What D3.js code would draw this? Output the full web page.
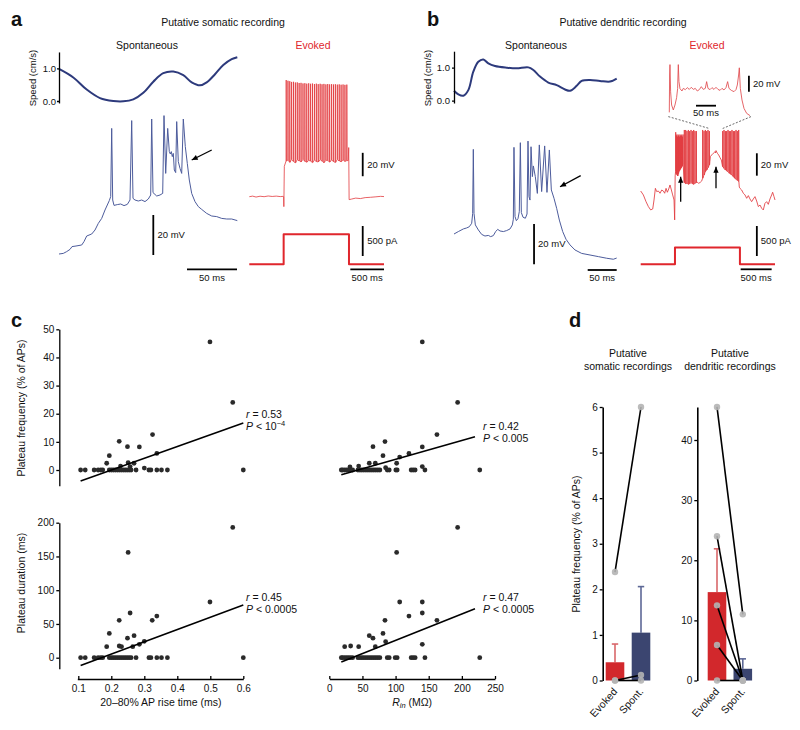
<!DOCTYPE html>
<html><head><meta charset="utf-8">
<script src="https://cdn.jsdelivr.net/npm/d3@7"></script>
<style>
body{margin:0;background:#fff}
svg{display:block;background:#fff}
text{font-family:'Liberation Sans',Arial,Helvetica,sans-serif;fill:#111}
</style></head>
<body><svg id="fig" width="800" height="730"></svg>
<script>
// ---------------- DATA ----------------
// Panel a: speed (cm/s) vs time (ms), spontaneous Vm (mV, relative) vs time (ms)
const aSpeed = [[0,0.98],[14.3,0.72],[27.7,0.35],[41,0.09],[54.3,0.0],[64.3,-0.01],[74.3,0.05],[84.3,0.25],[94.3,0.59],[104.3,0.85],[114.3,0.9],[124.3,0.79],[132.7,0.57],[141,0.48],[147.7,0.57],[156,0.82],[164.3,1.1],[172.7,1.28],[178.3,1.34]];
const aSpont = [[0,0],[4.3,0.3],[7.7,1.2],[11,2.3],[13,3.7],[17,4],[22.7,4.5],[25,6.2],[27.7,9],[32.7,10],[36,12],[39.3,15.3],[42.7,17.8],[46,22],[50.3,26.7],[51.7,28.7],[52.7,62.8],[53.7,27],[55,24.3],[58.3,24.7],[61.7,25],[65,24.2],[68.3,24.8],[71,27],[72.7,66.7],[74,27.8],[76,27],[79.3,26.5],[82.7,27],[86,26.2],[89.3,27.5],[91.7,29.5],[92.7,67.5],[94,30.7],[97.7,29],[101,29.5],[103.7,30.3],[105,69.2],[106.7,40.3],[108.7,62.8],[110.3,51.2],[111.3,50],[112.3,51.2],[113.3,48.7],[114.3,50.3],[115.3,42],[116.7,40.7],[117.7,66.2],[119.3,46.2],[121,42.8],[122.7,40.3],[124.3,67.5],[126.3,53.7],[128.3,45.3],[130.3,37],[132.7,30.3],[136,26.2],[139.3,23.7],[142.7,22.3],[147.7,20.3],[152.7,19],[157.7,18.7],[162.7,17.8],[167.7,17.5],[172.7,17.5],[178.3,16.7]];
// Panel a evoked: baseline/non-spike parts, spike times, peaks, troughs (mV); current step (pA)
const aEvBase = [[0,0],[50,0.5],[100,-0.3],[160,0.4],[220,0],[280,0.6],[340,0.2],[400,0.5],[460,0.1],[505,0.3],[510,0],[513,-8.5],[520,26],[1470,31],[1476,42],[1482,-2.5],[1520,-2],[1580,-1.2],[1650,-1.6],[1720,-0.8],[1800,-0.5],[1880,-0.1],[1950,0.3],[2000,0.1]];
const aEvSpikeT = [548,574,601,628,656,684,712,740,768,797,825,853,882,910,938,967,995,1023,1052,1080,1108,1137,1165,1193,1222,1250,1278,1307,1335,1363,1392,1420,1448];
const aEvPeak = [99.7,99.1,98.7,98.1,98.2,97.6,97.7,97.2,97.3,96.8,97.0,96.6,96.9,96.5,96.7,96.3,96.6,96.2,96.5,96.1,96.4,96.0,96.3,96.0,96.2,95.9,96.1,95.8,96.0,95.7,95.9,95.6,95.8];
const aEvTrough = [30.5,31.2,29.4,31.8,30.1,29.0,31.5,30.6,29.8,31.9,30.2,29.5,31.0,30.4,29.2,31.3,30.0,29.7,31.6,30.3,29.1,31.1,30.8,29.6,31.4,30.0,29.3,31.7,30.5,29.9,31.2,30.2,30.8];
const aCurT = [0,510,1480,2000];
const aCurI = [0,500,0,0];

// Panel b
const bSpeed = [[0,0.3],[7.5,0.19],[16.1,0.15],[24.7,0.32],[33.3,0.88],[41.9,1.18],[50.6,1.25],[59.2,1.13],[70.7,1.05],[90.8,1.0],[108,0.98],[128.2,1.01],[136.8,0.93],[148.3,0.73],[162.6,0.55],[177,0.47],[191.4,0.34],[200,0.3],[211.5,0.45],[220.1,0.6],[234.5,0.63],[251.7,0.6],[269,0.58],[280.5,0.67]];
const bSpont = [[0,0],[7.5,1.2],[16.1,2.5],[21.8,3],[26.4,3.6],[30.5,5.3],[32.2,10.2],[33.3,41.9],[34.5,10.2],[36.8,4.5],[42,2],[47.7,-0.2],[53.4,-1],[59.2,-0.7],[63.2,-1.3],[67.8,-0.8],[71.8,1.2],[75.3,2.3],[79.3,1.5],[85.1,1.2],[90.8,1.7],[96.6,2.5],[100.6,4.5],[102.3,7.3],[103.4,42.9],[105.2,8.6],[107.5,6.6],[110.3,7.6],[112.6,11.1],[114.4,45.2],[116.1,10.6],[119,8.3],[123,7.8],[125.9,9.9],[127.6,46],[129.3,18.5],[131,16.8],[132.8,43.2],[135.1,28.4],[136.8,33.7],[140.2,28.4],[143.7,20.1],[147.1,44.1],[151.1,21],[156.3,43.6],[160.3,20.6],[164.4,41.6],[167.8,21.8],[172.4,17.7],[177,12.7],[181.6,6.9],[187.4,1.2],[193.1,-2.6],[200,-5.4],[208.6,-7.9],[220.1,-9.6],[234.5,-10.4],[248.9,-11.2],[263.2,-12],[274.7,-12.5],[280.5,-11.9]];
const bEvBase = [[0,6.5],[43,3],[86,-3],[124,-7.4],[161,-10.4],[194,-9.5],[215,-1.5],[237,8.9],[258,6],[285,6.5],[312,4.5],[339,7.4],[366,6.5],[387,4.5],[409,8.9],[430,5.4],[452,8.3],[473,11.9],[495,7.4],[516,3],[538,-1.5],[548,-19.3],[556,20],
  [910,14.5],[935,13.4],[960,14.2],[985,15.5],
  [1116,33],[1124,37.2],[1145,38.7],[1172,40.2],[1190,41],[1199,41.7],[1208,40.5],[1215,42.6],[1237,40.2],[1258,38.7],[1280,36.3],[1301,34.2],[1315,30],
  [1591,10],[1602,8.9],[1629,7.4],[1656,4.5],[1683,3],[1710,0],[1737,2.4],[1763,-0.6],[1790,-3],[1817,-0.6],[1844,1.5],[1871,-2.4],[1898,-7.4],[1925,-6],[1952,-8.9],[1978,-10.4],[2005,-4.5],[2032,-3],[2059,-5.4],[2086,-0.6],[2113,3],[2129,5.4],[2151,1.5],[2167,-1.5]];
const bEvSpikeT = [565,575,586,597,608,618,629,640,651,661,672,683,704,726,747,769,790,812,833,855,876,898,1000,1022,1043,1065,1086,1108,1323,1344,1366,1387,1409,1430,1452,1473,1495,1516,1538,1559,1581];
const bEvPeak = [59,56,57,55,56,57,55,56,57,56,55,57,61,61,60,61,60,61,60,61,60,60,61,60,61,60,61,60,60,61,60,60,61,60,60,61,60,60,61,60,61];
const bEvTrough = [24,22,21,20,22,24,25,26,27,28,29,30,14,13,13.5,12.5,13,14,13,12.5,13.5,14,17.9,20.8,23.8,25.3,27.4,29.8,28.3,26.8,25.3,24.5,23.8,22.3,21.5,20.8,19.3,18,17,16,15];
const bInset = [[0,3.3],[0.8,50],[1.7,63],[3.3,29],[5.8,12.5],[10,6.3],[14.2,12.5],[18.3,21.7],[20.8,33],[22.5,63],[24.2,41.7],[26.7,33],[31.7,30],[35,33.3],[40,31.7],[45,34.2],[50,32],[55,34.6],[60,32],[65,33.3],[70,30],[75,31.7],[80,35.4],[85,32],[90,33.3],[93.3,41.7],[96.7,33.3],[101.7,31.7],[106.7,34.2],[111.7,32],[116.7,34.6],[121.7,32],[126.7,30.8],[131.7,33.3],[136.7,31.3],[141.7,34.2],[145.8,41.7],[149.2,33.3],[155,30.8],[161.7,29.2],[166.7,31.7],[170,37.5],[173.3,50],[175,59],[177.5,33.3],[181.7,18.8],[186.7,8.3],[193.3,2.1],[201.7,-0.8]];
const bInsetWindow = [1106,1323];
const bCurT = [0,553,1601,2167];
const bCurI = [0,280,0,0];

// Panel c scatter: [x, y]
const cRiseFreq = [[0.499,45.5],[0.568,24.0],[0.325,12.6],[0.224,10.2],[0.249,8.3],[0.285,8.2],[0.194,5.1],[0.338,5.9],[0.186,2.4],[0.251,2.6],[0.269,2.4],[0.228,1.4],[0.257,1.2],[0.300,0.7],
 [0.107,0],[0.121,0],[0.148,0],[0.16,0],[0.168,0],[0.174,0],[0.194,0],[0.2,0],[0.206,0],[0.212,0],[0.218,0],[0.224,0],[0.23,0],[0.236,0],[0.242,0],[0.248,0],[0.254,0],[0.26,0],[0.275,0],[0.314,0],[0.32,0],[0.338,0],[0.352,0],[0.37,0],[0.6,0]];
const cRinFreq = [[140.3,45.5],[193.6,24],[162.4,12.6],[84,10.1],[65.9,8.3],[140.3,8.2],[81,5.1],[106.2,4.6],[120.2,5.9],[60.3,2.4],[69.4,2.4],[101.6,2.4],[44.3,1.4],[31.2,1.1],[140.3,1.2],[85,0.8],
 [18.1,0],[20.2,0],[23.2,0],[26.2,0],[29.2,0],[32.2,0],[35.2,0],[43.2,0],[46.2,0],[49.2,0],[52.2,0],[55.3,0],[58.3,0],[61.3,0],[64.3,0],[67.3,0],[70.3,0],[73.3,0],[76.3,0],[87.4,0],[90.4,0],[100.4,0],[102.4,0],[123.5,0],[126.5,0],[129.5,0],[144.3,0],[227,0]];
const cRiseDur = [[0.568,193],[0.251,156],[0.499,82.5],[0.257,66.2],[0.224,55.3],[0.324,55.3],[0.338,61.7],[0.194,36],[0.249,29],[0.269,32.6],[0.186,16.3],[0.224,17.3],[0.231,16.3],[0.265,16.3],[0.285,19.8],[0.3,24.2],
 [0.107,0],[0.121,0],[0.148,0],[0.16,0],[0.168,0],[0.174,0],[0.194,0],[0.2,0],[0.206,0],[0.212,0],[0.218,0],[0.224,0],[0.23,0],[0.236,0],[0.242,0],[0.248,0],[0.254,0],[0.26,0],[0.275,0],[0.314,0],[0.32,0],[0.338,0],[0.352,0],[0.37,0],[0.6,0]];
const cRinDur = [[193.6,193],[101.6,156],[106.2,82.5],[140.3,82.5],[140.3,66.2],[120.2,61.7],[162.4,55.3],[84,55.3],[81,36],[60.3,32.6],[65.9,29],[85,23.7],[140.3,19.8],[23.2,16.3],[32.2,17.3],[44.3,16.3],[69.4,16.3],
 [18.1,0],[20.2,0],[23.2,0],[26.2,0],[29.2,0],[32.2,0],[35.2,0],[43.2,0],[46.2,0],[49.2,0],[52.2,0],[55.3,0],[58.3,0],[61.3,0],[64.3,0],[67.3,0],[70.3,0],[73.3,0],[76.3,0],[87.4,0],[90.4,0],[99.4,0],[102.4,0],[123.5,0],[126.5,0],[129.5,0],[144.3,0],[227,0]];
const cFitRiseFreq = [[0.107,-3.9],[0.6,16.7]];
const cFitRinFreq = [[18.1,-1.7],[219.8,11.8]];
const cFitRiseDur = [[0.107,-11.4],[0.6,78]];
const cFitRinDur = [[18.1,-6.4],[219.8,72.6]];
const cStats = [["0.53","10","−4"],["0.42","0.005",""],["0.45","0.0005",""],["0.47","0.0005",""]];
const cRiseTicks = [0.1,0.2,0.3,0.4,0.5,0.6];
const cRinTicks = [0,50,100,150,200,250];
const cFreqTicks = [0,10,20,30,40,50];
const cDurTicks = [0,50,100,150,200];

// Panel d
const dCats = ["Evoked","Spont."];
const dSomMean = [0.4,1.05];
const dSomErr = [0.8,2.06];
const dSomPairs = [[2.38,6.0],[0,0.12],[0,0]];
const dDenMean = [14.7,1.95];
const dDenErr = [21.9,3.6];
const dDenPairs = [[45.5,11.0],[24.0,0],[12.5,0],[5.9,0],[0,0]];
const dSomTicks = [0,1,2,3,4,5,6];
const dDenTicks = [0,10,20,30,40];

// ---------------- DRAW ----------------
const svg = d3.select("#fig");
const NAVY = "#2d3a7c", NAVYT = "#4d5c9c", RED = "#e0262c", REDT = "#e23a3e";
const FONT = "'Liberation Sans',Arial,Helvetica,sans-serif";

function txt(x, y, s, o = {}) {
  const t = svg.append("text").attr("x", x).attr("y", y).text(s)
    .attr("font-size", o.size || 10).attr("text-anchor", o.anchor || "start");
  if (o.weight) t.attr("font-weight", o.weight);
  if (o.fill) t.style("fill", o.fill);
  if (o.rotate !== undefined) t.attr("transform", `rotate(${o.rotate},${x},${y})`);
  if (o.dy) t.attr("dy", o.dy);
  return t;
}
function path(data, xs, ys, color, w, curve) {
  return svg.append("path").datum(data).attr("fill", "none").attr("stroke", color)
    .attr("stroke-width", w).attr("stroke-linejoin", "round")
    .attr("d", d3.line().x(d => xs(d[0])).y(d => ys(d[1])).curve(curve || d3.curveLinear));
}
function seg(x1, y1, x2, y2, color, w, dash) {
  const l = svg.append("line").attr("x1", x1).attr("y1", y1).attr("x2", x2).attr("y2", y2)
    .attr("stroke", color || "#000").attr("stroke-width", w || 1.8);
  if (dash) l.attr("stroke-dasharray", dash);
  return l;
}
function arrow(x1, y1, x2, y2) {
  seg(x1, y1, x2, y2, "#000", 1.3);
  const a = Math.atan2(y2 - y1, x2 - x1), L = 6, W = 2.6;
  const bx = x2 - L * Math.cos(a), by = y2 - L * Math.sin(a);
  svg.append("path").attr("fill", "#000")
    .attr("d", `M${x2},${y2}L${bx + W * Math.sin(a)},${by - W * Math.cos(a)}L${bx - W * Math.sin(a)},${by + W * Math.cos(a)}Z`);
}
function spikeTrain(base, times, peaks, troughs, rise, fall) {
  const pts = base.map(d => d.slice());
  times.forEach((t, i) => { pts.push([t - rise, troughs[i]], [t, peaks[i]], [t + fall, troughs[i]]); });
  return pts.sort((a, b) => a[0] - b[0]);
}
function styleAxis(g, fs) {
  g.selectAll("path,line").attr("stroke", "#000").attr("stroke-width", 1.3);
  g.selectAll("text").attr("font-size", fs || 10).style("font-family", FONT).style("fill", "#111");
}

// ---- panel labels & titles
txt(11, 26, "a", {size: 20, weight: "bold"});
txt(427, 26, "b", {size: 20, weight: "bold"});
txt(11, 327, "c", {size: 20, weight: "bold"});
txt(569, 327, "d", {size: 20, weight: "bold"});
txt(223, 26, "Putative somatic recording", {size: 10.5, anchor: "middle"});
txt(623, 26, "Putative dendritic recording", {size: 10.5, anchor: "middle"});
txt(147, 49, "Spontaneous", {size: 10.5, anchor: "middle"});
txt(313, 49, "Evoked", {size: 10.5, anchor: "middle", fill: RED});
txt(536, 49, "Spontaneous", {size: 10.5, anchor: "middle"});
txt(707, 49, "Evoked", {size: 10.5, anchor: "middle", fill: RED});

// ---- Panel a: speed
const aTX = d3.scaleLinear().domain([0, 178]).range([59, 237]);
const aSpY = d3.scaleLinear().domain([0, 1]).range([101, 68.3]);
path(aSpeed, aTX, aSpY, NAVY, 2, d3.curveCatmullRom);
{
  const g = svg.append("g").attr("transform", "translate(59,0)")
    .call(d3.axisLeft(d3.scaleLinear().domain([-0.06, 1.5]).range([aSpY(-0.06), aSpY(1.5)])).tickValues([0, 1]).tickFormat(d3.format(".1f")).tickSize(2).tickSizeOuter(0).tickPadding(1));
  styleAxis(g, 9.5);
  txt(36, 78, "Speed (cm/s)", {size: 9.5, anchor: "middle", rotate: -90});
}
// spontaneous Vm
const aVY = d3.scaleLinear().domain([0, 20]).range([254, 214]);
path(aSpont, aTX, aVY, NAVYT, 1);
arrow(aTX(152.7), aVY(52), aTX(132.7), aVY(47));
seg(aTX(94.3), aVY(-0.5), aTX(94.3), aVY(19.5));
txt(aTX(98.5), aVY(9.5), "20 mV", {size: 9.5, dy: "0.35em"});
seg(aTX(128), 269.3, aTX(178), 269.3);
txt(aTX(153), 281, "50 ms", {size: 9.5, anchor: "middle"});

// evoked
const aEX = d3.scaleLinear().domain([0, 2000]).range([249.3, 384]);
const aEY = d3.scaleLinear().domain([0, 20]).range([196.7, 173.3]);
path(spikeTrain(aEvBase, aEvSpikeT, aEvPeak, aEvTrough, 2, 4), aEX, aEY, REDT, 0.8);
const aCY = d3.scaleLinear().domain([0, 500]).range([264.3, 234.3]);
path(aCurT.map((t, i) => [t, aCurI[i]]), aEX, aCY, RED, 2, d3.curveStepAfter);
seg(aEX(1684), aEY(17.5), aEX(1684), aEY(37.5));
txt(aEX(1684) + 4.5, aEY(27.5), "20 mV", {size: 9.5, dy: "0.35em"});
seg(aEX(1684), aCY(138), aEX(1684), aCY(638));
txt(aEX(1684) + 4.5, aCY(388), "500 pA", {size: 9.5, dy: "0.35em"});
seg(aEX(1500), 269.3, aEX(2000), 269.3);
txt(aEX(1750), 281, "500 ms", {size: 9.5, anchor: "middle"});

// ---- Panel b: speed
const bTX = d3.scaleLinear().domain([0, 280.5]).range([454, 616.7]);
const bSpY = d3.scaleLinear().domain([0, 1]).range([100.7, 67.7]);
path(bSpeed, bTX, bSpY, NAVY, 2, d3.curveCatmullRom);
{
  const g = svg.append("g").attr("transform", "translate(454,0)")
    .call(d3.axisLeft(d3.scaleLinear().domain([-0.07, 1.5]).range([bSpY(-0.07), bSpY(1.5)])).tickValues([0, 1]).tickFormat(d3.format(".1f")).tickSize(2).tickSizeOuter(0).tickPadding(2));
  styleAxis(g, 9.5);
  txt(431, 78, "Speed (cm/s)", {size: 9.5, anchor: "middle", rotate: -90});
}
const bVY = d3.scaleLinear().domain([0, 20]).range([234, 193.6]);
path(bSpont, bTX, bVY, NAVYT, 1);
arrow(bTX(218.4), bVY(28.9), bTX(182.8), bVY(23.4));
seg(bTX(138), bVY(4.95), bTX(138), bVY(-15));
txt(bTX(138) + 4, bVY(-5), "20 mV", {size: 9.5, dy: "0.35em"});
seg(bTX(230.5), 270, bTX(280.5), 270);
txt(bTX(255.5), 281, "50 ms", {size: 9.5, anchor: "middle"});

// evoked main
const bEX = d3.scaleLinear().domain([0, 2167]).range([640.7, 775]);
const bEY = d3.scaleLinear().domain([0, 20]).range([198.3, 175.9]);
path(spikeTrain(bEvBase, bEvSpikeT, bEvPeak, bEvTrough, 2, 3), bEX, bEY, REDT, 0.85);
arrow(bEX(645), bEY(-3), bEX(645), bEY(19.3));
arrow(bEX(1215), bEY(8.9), bEX(1215), bEY(28.2));
seg(bEX(1874), bEY(20.2), bEX(1874), bEY(40.2));
txt(bEX(1874) + 4, bEY(30.2), "20 mV", {size: 9.5, dy: "0.35em"});
const bCY = d3.scaleLinear().domain([0, 500]).range([264.3, 234.3]);
path(bCurT.map((t, i) => [t, bCurI[i]]), bEX, bCY, RED, 2, d3.curveStepAfter);
seg(bEX(1874), bCY(138), bEX(1874), bCY(638));
txt(bEX(1874) + 4, bCY(388), "500 pA", {size: 9.5, dy: "0.35em"});
seg(bEX(1613), 269.3, bEX(2113), 269.3);
txt(bEX(1863), 281, "500 ms", {size: 9.5, anchor: "middle"});

// inset
const bIX = d3.scaleLinear().domain([0, 201.7]).range([669.3, 750]);
const bIY = d3.scaleLinear().domain([0, 20]).range([115, 99]);
path(bInset, bIX, bIY, "#e04a4e", 0.85);
seg(bIX(0) - 1, bIY(-2), bEX(bInsetWindow[0]), bEY(61) - 1.5, "#444", 0.8, "2,1.6");
seg(bIX(201.7) + 1, bIY(-2), bEX(bInsetWindow[1]), bEY(61) - 1.5, "#444", 0.8, "2,1.6");
seg(bIX(199), bIY(29.1), bIX(199), bIY(49.1));
txt(bIX(199) + 4, bIY(39.1), "20 mV", {size: 9.5, dy: "0.35em"});
seg(bIX(66.75), 105.7, bIX(116.75), 105.7);
txt(bIX(91.75), 116, "50 ms", {size: 9.5, anchor: "middle"});

// ---- Panel c
const cRiseX = d3.scaleLinear().domain([0.1, 0.6]).range([78.3, 243.3]);
const cRinX = d3.scaleLinear().domain([0, 250]).range([329.3, 495]);
const cFreqY = d3.scaleLinear().domain([0, 50]).range([470, 329.3]);
const cDurY = d3.scaleLinear().domain([0, 200]).range([657.7, 522.7]);

function scatter(data, xs, ys) {
  svg.append("g").selectAll("circle").data(data).join("circle")
    .attr("cx", d => xs(d[0])).attr("cy", d => ys(d[1])).attr("r", 2.4).attr("fill", "#2a2a2a");
}
function fit(data, xs, ys) { path(data, xs, ys, "#000", 1.6); }
function stats(x, y, s) {
  const t1 = svg.append("text").attr("x", x).attr("y", y).attr("font-size", 10.5);
  t1.append("tspan").attr("font-style", "italic").text("r");
  t1.append("tspan").text(" = " + s[0]);
  const t2 = svg.append("text").attr("x", x).attr("y", y + 12.5).attr("font-size", 10.5);
  t2.append("tspan").attr("font-style", "italic").text("P");
  t2.append("tspan").text(" < " + s[1]);
  if (s[2]) t2.append("tspan").attr("dy", -4.5).attr("font-size", 7.5).text(s[2]);
}
scatter(cRiseFreq, cRiseX, cFreqY); fit(cFitRiseFreq, cRiseX, cFreqY);
scatter(cRinFreq, cRinX, cFreqY); fit(cFitRinFreq, cRinX, cFreqY);
scatter(cRiseDur, cRiseX, cDurY); fit(cFitRiseDur, cRiseX, cDurY);
scatter(cRinDur, cRinX, cDurY); fit(cFitRinDur, cRinX, cDurY);
stats(246, 417.5, cStats[0]);
stats(483, 429.5, cStats[1]);
stats(246, 600.5, cStats[2]);
stats(483, 600.5, cStats[3]);

{
  const g1 = svg.append("g").attr("transform", "translate(59.3,0)")
    .call(d3.axisLeft(d3.scaleLinear().domain([-5.6, 50]).range([cFreqY(-5.6), cFreqY(50)])).tickValues(cFreqTicks).tickSize(3).tickSizeOuter(0).tickPadding(2));
  styleAxis(g1);
  const g2 = svg.append("g").attr("transform", "translate(59.3,0)")
    .call(d3.axisLeft(d3.scaleLinear().domain([-16.5, 200]).range([cDurY(-16.5), cDurY(200)])).tickValues(cDurTicks).tickSize(3).tickSizeOuter(0).tickPadding(2));
  styleAxis(g2);
  const g3 = svg.append("g").attr("transform", "translate(0,679)")
    .call(d3.axisBottom(d3.scaleLinear().domain([0.097, 0.6]).range([cRiseX(0.097), cRiseX(0.6)])).tickValues(cRiseTicks).tickFormat(d3.format(".1f")).tickSize(-3).tickSizeOuter(0).tickPadding(6));
  styleAxis(g3);
  const g4 = svg.append("g").attr("transform", "translate(0,679)")
    .call(d3.axisBottom(cRinX).tickValues(cRinTicks).tickSize(-3).tickSizeOuter(0).tickPadding(6));
  styleAxis(g4);
  txt(25, 408, "Plateau frequency (% of APs)", {size: 10.5, anchor: "middle", rotate: -90});
  txt(25, 583, "Plateau duration (ms)", {size: 10.5, anchor: "middle", rotate: -90});
  txt(cRiseX(0.35), 706, "20–80% AP rise time (ms)", {size: 10.5, anchor: "middle"});
  const t = svg.append("text").attr("x", cRinX(125)).attr("y", 706).attr("font-size", 10.5).attr("text-anchor", "middle");
  t.append("tspan").attr("font-style", "italic").text("R");
  t.append("tspan").attr("font-style", "italic").attr("font-size", 7.5).attr("dy", 2).text("in");
  t.append("tspan").attr("dy", -2).text(" (MΩ)");
}

// ---- Panel d
function dPanel(axisX, cx, ys, domainTop, ticks, means, errs, pairs) {
  const xs = d3.scalePoint().domain(dCats).range(cx);
  const bw = 18.6;
  const fills = ["#d2282c", "#3b4570"], errc = ["#d9676a", "#5d6896"];
  means.forEach((m, i) => {
    const x = xs(dCats[i]);
    seg(x, ys(m), x, ys(errs[i]), errc[i], 1.6);
    seg(x - 3.2, ys(errs[i]), x + 3.2, ys(errs[i]), errc[i], 1.6);
    svg.append("rect").attr("x", x - bw / 2).attr("y", ys(m)).attr("width", bw).attr("height", ys(0) - ys(m))
      .attr("fill", fills[i]);
  });
  pairs.forEach(p => seg(xs(dCats[0]), ys(p[0]), xs(dCats[1]), ys(p[1]), "#000", 1.6));
  pairs.forEach(p => p.forEach((v, i) => {
    svg.append("circle").attr("cx", xs(dCats[i])).attr("cy", ys(v)).attr("r", 3.2)
      .attr("fill", "#b4b4b4").attr("fill-opacity", 0.9);
  }));
  const g = svg.append("g").attr("transform", `translate(${axisX},0)`)
    .call(d3.axisLeft(d3.scaleLinear().domain([0, domainTop]).range([ys(0), ys(domainTop)])).tickValues(ticks).tickFormat(d3.format("d")).tickSize(3).tickSizeOuter(0).tickPadding(2));
  styleAxis(g);
  g.select(".domain").attr("stroke-width", 1.6);
  dCats.forEach(c => {
    txt(xs(c) + 3, 692, c, {size: 10.5, anchor: "end", rotate: -48});
  });
}
const dSomY = d3.scaleLinear().domain([0, 6]).range([680.5, 407]);
const dDenY = d3.scaleLinear().domain([0, 40]).range([680.5, 440]);
dPanel(602.7, [615, 641], dSomY, 6, dSomTicks, dSomMean, dSomErr, dSomPairs);
dPanel(697.3, [717, 742.8], dDenY, 45.5, dDenTicks, dDenMean, dDenErr, dDenPairs);
txt(628, 357, "Putative", {size: 10.5, anchor: "middle"});
txt(628, 369.5, "somatic recordings", {size: 10.5, anchor: "middle"});
txt(730, 357, "Putative", {size: 10.5, anchor: "middle"});
txt(730, 369.5, "dendritic recordings", {size: 10.5, anchor: "middle"});
txt(580, 544, "Plateau frequency (% of APs)", {size: 10.5, anchor: "middle", rotate: -90});
</script></body></html>
